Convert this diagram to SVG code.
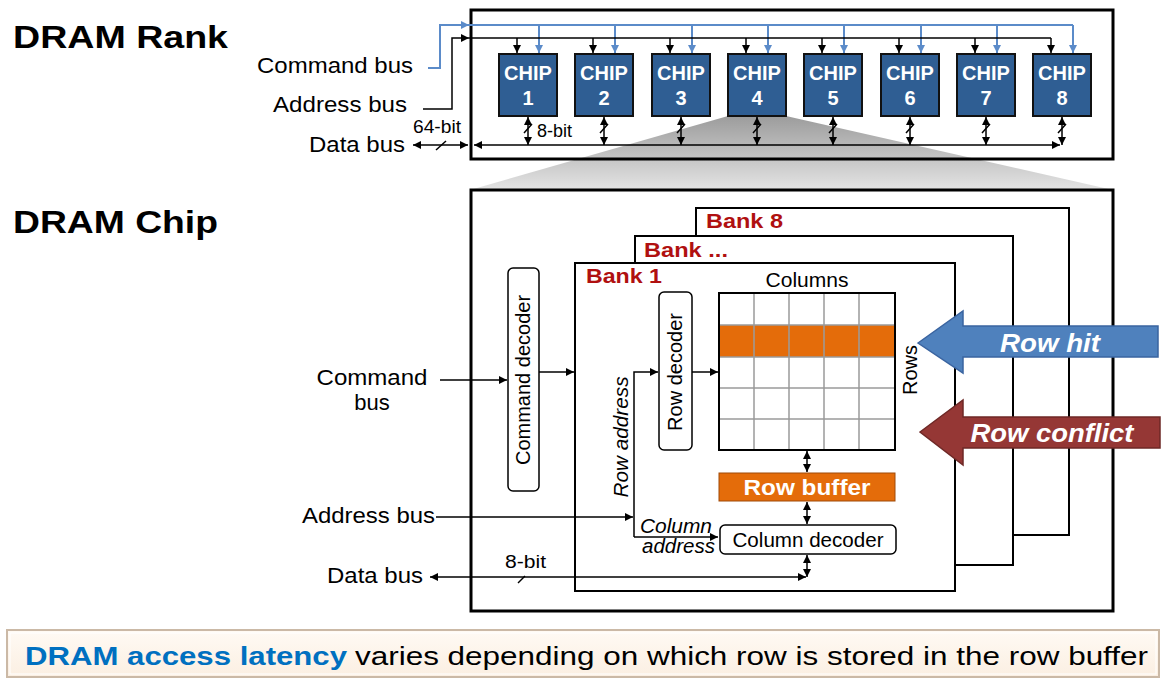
<svg xmlns="http://www.w3.org/2000/svg" width="1162" height="679" viewBox="0 0 1162 679">
<style>
text{font-family:"Liberation Sans",Arial,sans-serif;}
.lbl{font-size:22px;fill:#000;}
.title{font-size:32px;font-weight:bold;fill:#000;}
.chipt{font-size:20px;font-weight:bold;fill:#fff;text-anchor:middle;}
.bank{font-size:21px;font-weight:bold;fill:#b01010;}
.ln{stroke:#000;stroke-width:1.5;fill:none;}
.blue{stroke:#5b8bc9;stroke-width:2;fill:none;}
.chip{fill:#2f5e93;stroke:#111;stroke-width:2;}
.box{fill:none;stroke:#000;stroke-width:3;}
.bk{fill:#fff;stroke:#000;stroke-width:2;}
.dec{fill:#fff;stroke:#000;stroke-width:1.5;}
.grid{stroke:#9a9a9a;stroke-width:1.5;}
.orange{fill:#e46c0a;}
.it{font-style:italic;}
</style>
<defs>
<marker id="a" markerUnits="userSpaceOnUse" markerWidth="9" markerHeight="8" refX="8" refY="4" orient="auto-start-reverse"><path d="M0,0 L8,4 L0,8 z" fill="#000"/></marker>
<marker id="ab" markerUnits="userSpaceOnUse" markerWidth="9" markerHeight="8" refX="8" refY="4" orient="auto-start-reverse"><path d="M0,0 L8,4 L0,8 z" fill="#5b8bc9"/></marker>
<linearGradient id="zoomg" x1="0" y1="0" x2="0" y2="1"><stop offset="0" stop-color="#9c9c9c"/><stop offset="1" stop-color="#e4e4e4"/></linearGradient>
<linearGradient id="bang" x1="0" y1="0" x2="0" y2="1"><stop offset="0" stop-color="#fffaf4"/><stop offset="1" stop-color="#fbefe2"/></linearGradient>
</defs>

<!-- titles -->
<text class="title" x="13" y="48" textLength="215" lengthAdjust="spacingAndGlyphs">DRAM Rank</text>
<text class="title" x="13" y="233" textLength="205" lengthAdjust="spacingAndGlyphs">DRAM Chip</text>

<!-- zoom projection -->
<polygon points="728,116 786,116 1113,190 470,190" fill="url(#zoomg)"/>

<!-- rank box -->
<g id="rank">
<rect class="box" x="471" y="10" width="642" height="149"/>
</g>

<g id="chips">
<g id="chip1"><rect class="chip" x="499" y="54" width="58" height="62"/><text class="chipt" x="528" y="80">CHIP</text><text class="chipt" x="528" y="105">1</text></g>
<g id="chip2"><rect class="chip" x="575" y="54" width="58" height="62"/><text class="chipt" x="604" y="80">CHIP</text><text class="chipt" x="604" y="105">2</text></g>
<g id="chip3"><rect class="chip" x="652" y="54" width="58" height="62"/><text class="chipt" x="681" y="80">CHIP</text><text class="chipt" x="681" y="105">3</text></g>
<g id="chip4"><rect class="chip" x="728" y="54" width="58" height="62"/><text class="chipt" x="757" y="80">CHIP</text><text class="chipt" x="757" y="105">4</text></g>
<g id="chip5"><rect class="chip" x="804" y="54" width="58" height="62"/><text class="chipt" x="833" y="80">CHIP</text><text class="chipt" x="833" y="105">5</text></g>
<g id="chip6"><rect class="chip" x="881" y="54" width="58" height="62"/><text class="chipt" x="910" y="80">CHIP</text><text class="chipt" x="910" y="105">6</text></g>
<g id="chip7"><rect class="chip" x="957" y="54" width="58" height="62"/><text class="chipt" x="986" y="80">CHIP</text><text class="chipt" x="986" y="105">7</text></g>
<g id="chip8"><rect class="chip" x="1033" y="54" width="58" height="62"/><text class="chipt" x="1062" y="80">CHIP</text><text class="chipt" x="1062" y="105">8</text></g>
</g>

<!-- rank labels -->
<g id="rank-labels">
<text class="lbl" x="257" y="73" textLength="156" lengthAdjust="spacingAndGlyphs">Command bus</text>
<text class="lbl" x="273" y="112" textLength="134" lengthAdjust="spacingAndGlyphs">Address bus</text>
<text class="lbl" x="309" y="152" textLength="96" lengthAdjust="spacingAndGlyphs">Data bus</text>
<text x="413" y="133" font-size="18" textLength="48" lengthAdjust="spacingAndGlyphs">64-bit</text>
<text x="537" y="137" font-size="18" textLength="35" lengthAdjust="spacingAndGlyphs">8-bit</text>
</g>

<g id="rank-connectors">
<path class="blue" d="M428,68 H440 V25 H469" marker-end="url(#ab)"/>
<path class="blue" d="M469,25 H1073"/>
<g class="blue"><path d="M539,25 V53" marker-end="url(#ab)"/><path d="M615,25 V53" marker-end="url(#ab)"/><path d="M692,25 V53" marker-end="url(#ab)"/><path d="M768,25 V53" marker-end="url(#ab)"/><path d="M844,25 V53" marker-end="url(#ab)"/><path d="M921,25 V53" marker-end="url(#ab)"/><path d="M997,25 V53" marker-end="url(#ab)"/><path d="M1073,25 V53" marker-end="url(#ab)"/></g>
<path class="ln" d="M423,109 H452 V38 H469" marker-end="url(#a)"/>
<path class="ln" d="M469,38 H1051"/>
<g class="ln"><path d="M517,38 V53" marker-end="url(#a)"/><path d="M593,38 V53" marker-end="url(#a)"/><path d="M670,38 V53" marker-end="url(#a)"/><path d="M746,38 V53" marker-end="url(#a)"/><path d="M822,38 V53" marker-end="url(#a)"/><path d="M899,38 V53" marker-end="url(#a)"/><path d="M975,38 V53" marker-end="url(#a)"/><path d="M1051,38 V53" marker-end="url(#a)"/></g>
<!-- data -->
<path class="ln" d="M413,145 H468" marker-start="url(#a)" marker-end="url(#a)"/>
<path class="ln" d="M436,150 L446,141"/>
<path class="ln" d="M474,145 H1060" marker-start="url(#a)" marker-end="url(#a)"/>
<g class="ln">
<path d="M528,117 V145" marker-start="url(#a)" marker-end="url(#a)"/>
<path d="M604,117 V145" marker-start="url(#a)" marker-end="url(#a)"/>
<path d="M681,117 V145" marker-start="url(#a)" marker-end="url(#a)"/>
<path d="M757,117 V145" marker-start="url(#a)" marker-end="url(#a)"/>
<path d="M833,117 V145" marker-start="url(#a)" marker-end="url(#a)"/>
<path d="M910,117 V145" marker-start="url(#a)" marker-end="url(#a)"/>
<path d="M986,117 V145" marker-start="url(#a)" marker-end="url(#a)"/>
<path d="M1062,117 V145" marker-start="url(#a)" marker-end="url(#a)"/>
<path d="M524,133 L532,124 M600,133 L608,124 M677,133 L685,124 M753,133 L761,124 M829,133 L837,124 M906,133 L914,124 M982,133 L990,124 M1058,133 L1066,124"/>
</g>
</g>

<!-- chip box -->
<g id="chipbox"><rect x="471" y="190" width="642" height="421" fill="#fff" stroke="#000" stroke-width="3"/></g>

<g id="bank8"><rect class="bk" x="696" y="208" width="373" height="327"/><text class="bank" x="706" y="228" textLength="77" lengthAdjust="spacingAndGlyphs">Bank 8</text></g>
<g id="bankdots"><rect class="bk" x="635" y="236" width="378" height="329"/><text class="bank" x="644" y="257" textLength="84" lengthAdjust="spacingAndGlyphs">Bank ...</text></g>
<g id="bank1"><rect class="bk" x="575" y="263" width="380" height="328"/><text class="bank" x="586" y="283" textLength="76" lengthAdjust="spacingAndGlyphs">Bank 1</text></g>

<g id="command-decoder"><rect class="dec" x="508" y="268" width="31" height="223" rx="5"/><text x="530" y="380" font-size="20" text-anchor="middle" transform="rotate(-90 530 380)">Command decoder</text></g>
<g id="row-decoder"><rect class="dec" x="659" y="292" width="33" height="158" rx="5"/><text x="682" y="372" font-size="20" text-anchor="middle" transform="rotate(-90 682 372)">Row decoder</text></g>

<g id="array">
<rect x="719" y="325" width="176" height="32" class="orange"/>
<path class="grid" d="M754,293 V450 M789,293 V450 M824,293 V450 M859,293 V450 M719,325 H895 M719,357 H895 M719,388 H895 M719,419 H895"/>
<rect x="719" y="293" width="176" height="157" fill="none" stroke="#000" stroke-width="2"/>
<text x="807" y="287" font-size="20" text-anchor="middle" textLength="83" lengthAdjust="spacingAndGlyphs">Columns</text>
<text x="917" y="370" font-size="20" text-anchor="middle" transform="rotate(-90 917 370)">Rows</text>
</g>

<g id="row-buffer"><rect x="719" y="473" width="176" height="28" class="orange" stroke="#a04a08" stroke-width="1"/><text x="807" y="495" font-size="22" font-weight="bold" fill="#fff" text-anchor="middle" textLength="127" lengthAdjust="spacingAndGlyphs">Row buffer</text></g>
<g id="column-decoder"><rect class="dec" x="720" y="525" width="176" height="29" rx="5"/><text x="808" y="547" font-size="20" text-anchor="middle" textLength="151" lengthAdjust="spacingAndGlyphs">Column decoder</text></g>

<g id="row-hit"><polygon points="918,343 963,311 963,326 1158,326 1158,357 963,357 963,373" fill="#4f81bd" stroke="#3a64a0" stroke-width="1.5"/><text x="1050" y="352" font-size="26" font-weight="bold" font-style="italic" fill="#fff" text-anchor="middle" textLength="100" lengthAdjust="spacingAndGlyphs">Row hit</text></g>
<g id="row-conflict"><polygon points="920,432 963,400 963,417 1160,417 1160,448 963,448 963,465" fill="#953735" stroke="#6e2826" stroke-width="1.5"/><text x="1052" y="442" font-size="26" font-weight="bold" font-style="italic" fill="#fff" text-anchor="middle" textLength="163" lengthAdjust="spacingAndGlyphs">Row conflict</text></g>

<g id="chip-labels">
<text class="lbl" x="372" y="385" text-anchor="middle" textLength="111" lengthAdjust="spacingAndGlyphs">Command</text>
<text class="lbl" x="372" y="410" text-anchor="middle">bus</text>
<text class="lbl" x="302" y="523" textLength="133" lengthAdjust="spacingAndGlyphs">Address bus</text>
<text class="lbl" x="327" y="583" textLength="96" lengthAdjust="spacingAndGlyphs">Data bus</text>
<text x="505" y="568" font-size="18" textLength="41" lengthAdjust="spacingAndGlyphs">8-bit</text>
<text class="it" x="628" y="437" font-size="20" text-anchor="middle" transform="rotate(-90 628 437)" textLength="121" lengthAdjust="spacingAndGlyphs">Row address</text>
<text class="it" x="640" y="533" font-size="20" textLength="72" lengthAdjust="spacingAndGlyphs">Column</text>
<text class="it" x="642" y="553" font-size="20" textLength="73" lengthAdjust="spacingAndGlyphs">address</text>
</g>

<g id="chip-connectors" class="ln">
<path d="M440,380 H507" marker-end="url(#a)"/>
<path d="M539,372 H574" marker-end="url(#a)"/>
<path d="M436,517 H633" marker-end="url(#a)"/>
<path d="M634,537 V372 H658" marker-end="url(#a)"/>
<path d="M634,537 H718" marker-end="url(#a)"/>
<path d="M692,372 H718" marker-end="url(#a)"/>
<path d="M807,451 V472" marker-start="url(#a)" marker-end="url(#a)"/>
<path d="M807,502 V524" marker-start="url(#a)" marker-end="url(#a)"/>
<path d="M807,555 V577" marker-start="url(#a)" marker-end="url(#a)"/>
<path d="M430,577 H806" marker-start="url(#a)" marker-end="url(#a)"/>
<path d="M518,583 L525,576"/>
</g>

<!-- banner -->
<g id="banner">
<rect x="7" y="630" width="1152" height="47" fill="url(#bang)" stroke="#cbb9a6" stroke-width="2"/>
<rect x="10" y="633" width="1146" height="41" fill="none" stroke="#fff" stroke-width="1"/>
<text x="25" y="665" font-size="25" font-weight="bold" fill="#0070c0" textLength="322" lengthAdjust="spacingAndGlyphs">DRAM access latency</text>
<text x="355" y="665" font-size="25" fill="#000" textLength="793" lengthAdjust="spacingAndGlyphs">varies depending on which row is stored in the row buffer</text>
</g>
</svg>
